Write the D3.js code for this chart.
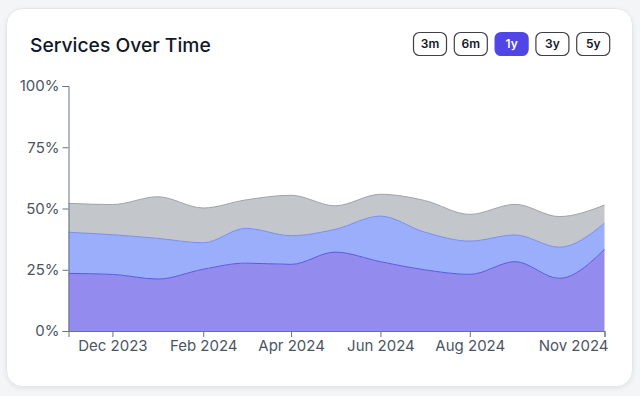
<!DOCTYPE html>
<html>
<head>
<meta charset="utf-8">
<script src="https://cdn.jsdelivr.net/npm/d3@7"></script>
<style>
  html, body { margin: 0; padding: 0; background: #f4f5f7; }
  svg { display: block; font-family: Inter, "Noto Sans", sans-serif; }
</style>
</head>
<body>
<svg id="chart" width="640" height="396"></svg>
<script>
// ---- data ----
const months = ["2023-11-01","2023-12-01","2024-01-01","2024-02-01","2024-03-01","2024-04-01",
                "2024-05-01","2024-06-01","2024-07-01","2024-08-01","2024-09-01","2024-10-01","2024-11-01"];
const seriesA = [23.5, 23.1, 21.2, 25.2, 27.7, 27.2, 32.2, 28.3, 25.0, 23.1, 28.3, 21.5, 33.3];
const seriesB = [16.8, 16.2, 16.6, 10.8, 14.2, 11.7,  9.3, 18.6, 15.4, 13.6, 10.9, 12.7, 10.7];
const seriesC = [11.8, 12.3, 17.0, 14.2, 11.6, 16.5,  9.6,  8.9, 12.9, 10.9, 12.5, 12.5,  7.4];
const yTicks = [0, 25, 50, 75, 100];
const xTickDates = ["2023-12-01","2024-02-01","2024-04-01","2024-06-01","2024-08-01","2024-11-01"];
const ranges = ["3m","6m","1y","3y","5y"];
const activeRange = "1y";
const title = "Services Over Time";

// ---- setup ----
const parse = d3.utcParse("%Y-%m-%d");
const rows = months.map((m, i) => ({date: parse(m), a: seriesA[i], b: seriesB[i], c: seriesC[i]}));
const keys = ["a", "b", "c"];
const fills = {a: "#938cee", b: "#9aaefc", c: "#c3c7cc"};
const strokes = {a: "#5b58e0", b: "#7b8cf0", c: "#a0a4aa"};

const svg = d3.select("#chart");

const defs = svg.append("defs");
const f = defs.append("filter").attr("id", "shadow").attr("x", "-5%").attr("y", "-5%")
  .attr("width", "110%").attr("height", "115%");
f.append("feDropShadow").attr("dx", 0).attr("dy", 1.5).attr("stdDeviation", 2)
  .attr("flood-color", "#000").attr("flood-opacity", 0.08);

// card
svg.append("rect").attr("x", 6.5).attr("y", 8.5).attr("width", 626).attr("height", 378)
  .attr("rx", 16).attr("fill", "#ffffff").attr("stroke", "#e4e6ea").attr("stroke-width", 1)
  .attr("filter", "url(#shadow)");

svg.append("text").attr("x", 30).attr("y", 51.5).text(title)
  .attr("font-size", 19.3).attr("font-weight", 500).attr("fill", "#111827");

// range buttons
const bw = 33, bh = 23, gap = 7.8, bx0 = 413.5, by = 32.5;
const btn = svg.append("g").selectAll("g").data(ranges).join("g")
  .attr("transform", (d, i) => `translate(${bx0 + i * (bw + gap)},${by})`);
btn.append("rect").attr("width", bw).attr("height", bh).attr("rx", 6)
  .attr("fill", d => d === activeRange ? "#4f46e5" : "#ffffff")
  .attr("stroke", d => d === activeRange ? "#4f46e5" : "#3f3f46").attr("stroke-width", 1.2);
btn.append("text").attr("x", bw / 2).attr("y", bh / 2 + 4.3).attr("text-anchor", "middle")
  .attr("font-size", 12).attr("font-weight", 600)
  .attr("fill", d => d === activeRange ? "#ffffff" : "#111827").text(d => d);

// scales
const x = d3.scaleUtc().domain(d3.extent(rows, d => d.date)).range([68.5, 604.5]);
const y = d3.scaleLinear().domain([0, 100]).range([331, 86]);

const stacked = d3.stack().keys(keys)(rows);
const area = d3.area().curve(d3.curveMonotoneX)
  .x(d => x(d.data.date)).y0(d => y(d[0])).y1(d => y(d[1]));
const line = d3.line().curve(d3.curveMonotoneX)
  .x(d => x(d.data.date)).y(d => y(d[1]));

const g = svg.append("g");
g.selectAll("path.area").data(stacked).join("path").attr("class", "area")
  .attr("d", area).attr("fill", d => fills[d.key]);
g.selectAll("path.line").data(stacked).join("path").attr("class", "line")
  .attr("d", line).attr("fill", "none").attr("stroke", d => strokes[d.key]).attr("stroke-width", 1);

// axes
const axisColor = "#6b7280";
const yAxis = svg.append("g").attr("transform", "translate(68.5,0)")
  .call(d3.axisLeft(y).tickValues(yTicks).tickFormat(d => d + "%"));
const xAxis = svg.append("g").attr("transform", "translate(0,331)")
  .call(d3.axisBottom(x).tickValues(xTickDates.map(parse)).tickFormat(d3.utcFormat("%b %Y")));
[yAxis, xAxis].forEach(ax => {
  ax.selectAll("path, line").attr("stroke", axisColor);
  ax.selectAll("text").attr("fill", "#4b5563").attr("font-size", 15)
    .attr("font-family", "Inter, 'Noto Sans', sans-serif");
});
// keep the last x label inside the card
xAxis.selectAll(".tick").filter((d, i, n) => i === n.length - 1)
  .select("text").attr("text-anchor", "end").attr("x", 3.5);
</script>
</body>
</html>
